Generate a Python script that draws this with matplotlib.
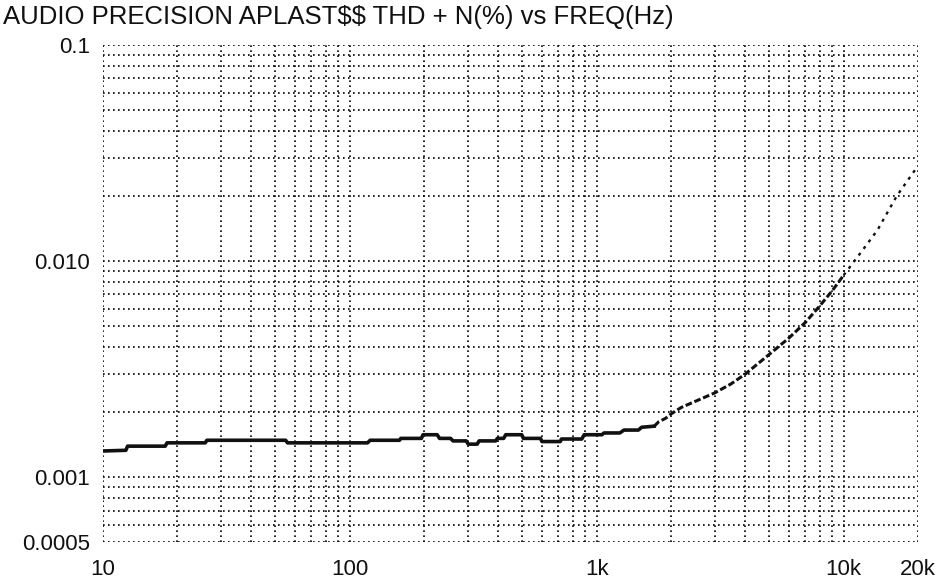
import matplotlib

matplotlib.use("Agg")

import matplotlib.pyplot as plt
from matplotlib.ticker import NullFormatter, LogLocator

plt.rcParams["font.family"] = ["Liberation Sans", "DejaVu Sans"]

# THD+N (%), frequency in Hz
freq = [10, 12.4, 12.6, 17.9, 18.2, 26, 26.4, 55, 56, 118, 121, 159, 161,
        195, 198, 226, 231, 256, 262, 296, 302, 328, 334, 390, 396, 420,
        428, 497, 505, 592, 600, 712, 720, 870, 890, 1050, 1070, 1240, 1290,
        1475, 1520, 1710, 1780, 1900, 2000, 2200, 3000, 3500, 4000, 5000,
        6000, 7000, 8000, 9000, 10000, 11700, 13700, 16400, 19500, 20000]
thd = [0.00132, 0.00133, 0.00139, 0.00139, 0.00144, 0.00144, 0.00148,
       0.00148, 0.00144, 0.00144, 0.00148, 0.00148, 0.00151, 0.00151,
       0.00157, 0.00157, 0.00151, 0.00151, 0.00147, 0.00147, 0.00142,
       0.00142, 0.00147, 0.00147, 0.00151, 0.00151, 0.00157, 0.00157,
       0.00151, 0.00151, 0.00146, 0.00146, 0.0015, 0.0015, 0.00157, 0.00157,
       0.0016, 0.0016, 0.00165, 0.00165, 0.0017, 0.00172, 0.0018, 0.00187,
       0.00196, 0.0021, 0.00245, 0.0027, 0.003, 0.0037, 0.0044, 0.0052,
       0.0062, 0.0073, 0.0086, 0.0109, 0.0139, 0.02, 0.0265, 0.0276]

x_ticks = [10, 100, 1000, 10000, 20000]
x_labels = ["10", "100", "1k", "10k", "20k"]
y_ticks = [0.0005, 0.001, 0.01, 0.1]
y_labels = ["0.0005", "0.001", "0.010", "0.1"]

fig = plt.figure(figsize=(9.43, 5.81), dpi=100)
ax = fig.add_axes([0.109, 0.067, 0.8645, 0.8555])

# sweep trace gets sparser (dashed, then dotted) as it climbs
i1 = freq.index(1710)
i2 = freq.index(10000)
ax.plot(freq[:i1 + 1], thd[:i1 + 1], color="#111111", lw=2.6)
ax.plot(freq[i1:i2 + 1], thd[i1:i2 + 1], color="#111111", lw=2.2,
        linestyle=(0, (2.2, 0.9)))
ax.plot(freq[i2:], thd[i2:], color="#111111", lw=1.7,
        linestyle=(0, (1.3, 2.2)))

ax.set_xscale("log")
ax.set_yscale("log")
ax.set_xlim(10, 20000)
ax.set_ylim(0.0005, 0.1)

ax.xaxis.set_minor_locator(LogLocator(base=10, subs=range(2, 10), numticks=20))
ax.yaxis.set_minor_locator(LogLocator(base=10, subs=range(2, 10), numticks=20))
ax.xaxis.set_minor_formatter(NullFormatter())
ax.yaxis.set_minor_formatter(NullFormatter())
ax.set_xticks(x_ticks, x_labels)
ax.set_yticks(y_ticks, y_labels)

ax.grid(True, which="both", color="#000000", lw=1.2, linestyle=(0, (1, 2)))
ax.tick_params(which="both", length=0, labelsize=16, colors="#111111")
ax.tick_params(axis="x", pad=12)
ax.tick_params(axis="y", pad=9)
for s in ax.spines.values():
    s.set_visible(False)

fig.text(0.003, 0.970, "AUDIO PRECISION APLAST$$ THD + N(%) vs FREQ(Hz)",
         fontsize=18.5, color="#111111", va="center", ha="left",
         parse_math=False)

fig.savefig("out.png", dpi=100)
plt.close(fig)
